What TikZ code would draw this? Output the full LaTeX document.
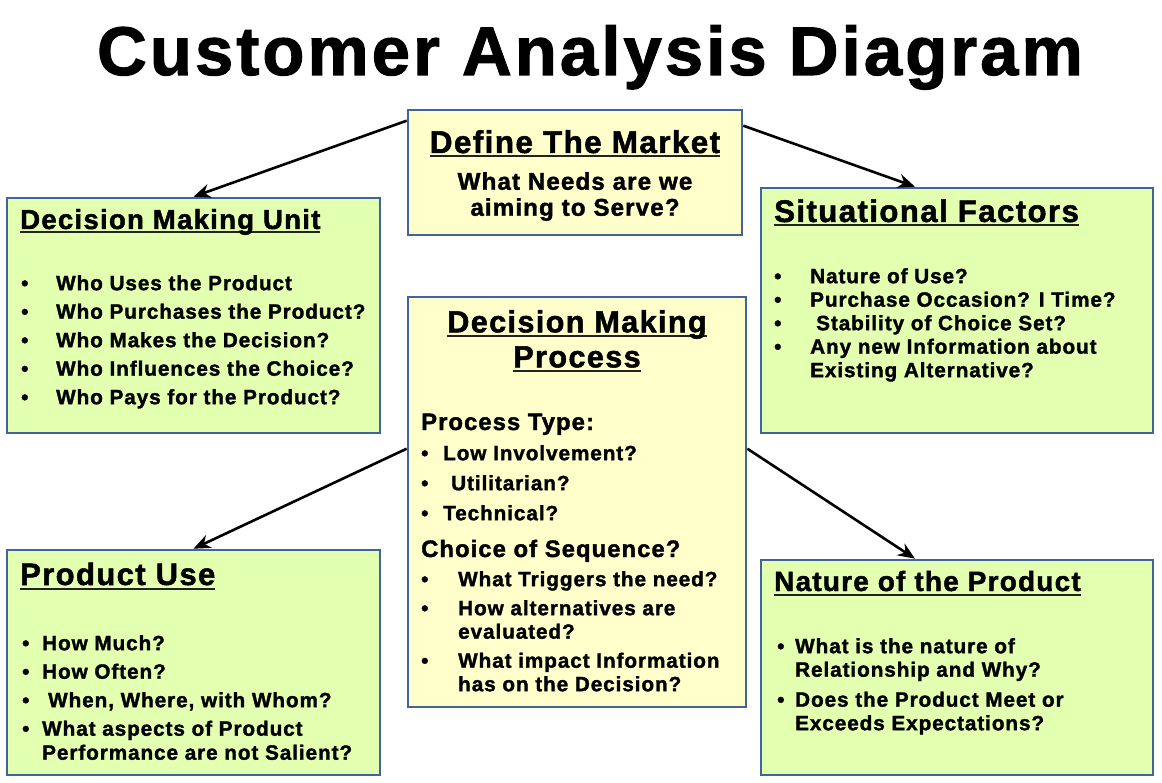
\documentclass[tikz,border=0pt]{standalone}
\usepackage{fontspec}
\setmainfont{Liberation Sans}[LetterSpace=4.5, BoldFeatures={FakeBold=1.6}]
\usetikzlibrary{arrows.meta,positioning,calc}
\definecolor{marketyellow}{HTML}{FFFFCC}
\definecolor{factorgreen}{HTML}{E3FFB0}
\definecolor{frameblue}{HTML}{41659A}
\definecolor{rulegray}{HTML}{222222}
\newcommand{\ulhead}[1]{\setbox0\hbox{#1}\rlap{\color{rulegray}\rule[-4.5pt]{\wd0}{2pt}}\box0}
\newcommand{\bul}[2]{\makebox[#1][l]{\textbullet}#2}
\newcommand{\fsz}[2]{\fontsize{#1}{#2}\selectfont}
\tikzset{
  panel/.style={
    draw=frameblue,
    line width=2.6pt,
    inner sep=0pt
  },
  marketpanel/.style={
    panel,
    fill=marketyellow
  },
  factorpanel/.style={
    panel,
    fill=factorgreen
  },
  heading/.style={
    font=\bfseries\fsz{#1}{#1},
    anchor=base west,
    inner sep=0pt
  },
  heading/.default=27,
  itemlist/.style={
    font=\bfseries\fsz{20.7}{#1},
    anchor=north west,
    align=left,
    inner sep=0pt
  },
  itemlist/.default=23.5,
  link/.style={
    -{Stealth[length=17pt,width=14pt]},
    draw=black,
    line width=2.6pt
  }
}

\begin{document}
\begin{tikzpicture}[x=1pt,y=-1pt]
  \useasboundingbox (0,0) rectangle (1162,783);

  \node[font=\bfseries\fsz{68.8}{70}, anchor=base, inner sep=0pt] (title) at (590,75)
    {Customer Analysis Diagram};

  % panels
  \node[marketpanel, minimum width=334pt, minimum height=125pt] (market) at (575,172.5) {};
  \node[factorpanel, minimum width=373pt, minimum height=235pt] (dmu) at (193.5,315.5) {};
  \node[factorpanel, minimum width=392pt, minimum height=245pt] (situ) at (957,310.5) {};
  \node[marketpanel, minimum width=338pt, minimum height=410pt] (dmp) at (577,502) {};
  \node[factorpanel, minimum width=373pt, minimum height=225pt] (use) at (193.5,662.5) {};
  \node[factorpanel, minimum width=392pt, minimum height=215pt] (nature) at (957,667.5) {};

  % define the market
  \node[heading=31.4, anchor=base] (markethead) at (575,153)
    {\ulhead{Define The Market}};
  \node[font=\bfseries\fsz{24.2}{26}, align=center, anchor=north, inner sep=0pt] (marketsub) at (575,172)
    {What Needs are we\\aiming to Serve?};

  % decision making unit
  \node[heading=27.6] (dmuhead) at (20,229)
    {\ulhead{Decision Making Unit}};
  \node[itemlist=28.5] (dmulist) at (21,275)
    {\bul{35pt}{Who Uses the Product}\\
     \bul{35pt}{Who Purchases the Product?}\\
     \bul{35pt}{Who Makes the Decision?}\\
     \bul{35pt}{Who Influences the Choice?}\\
     \bul{35pt}{Who Pays for the Product?}};

  % situational factors
  \node[heading=31.2] (situhead) at (774,222)
    {\ulhead{Situational Factors}};
  \node[itemlist] (situlist) at (774,268)
    {\bul{36pt}{Nature of Use?}\\
     \bul{36pt}{Purchase Occasion? I Time?}\\
     \bul{36pt}{\hspace{6pt}Stability of Choice Set?}\\
     \bul{36pt}{Any new Information about}\\
     \hspace*{36pt}Existing Alternative?};

  % decision making process
  \node[heading, font=\bfseries\fsz{30.6}{35}, anchor=north, align=center] (dmphead) at (577,310)
    {\ulhead{Decision Making}\\\ulhead{Process}};
  \node[heading=23.8] (typehead) at (421,430) {Process Type:};
  \node[itemlist=30] (typelist) at (421,445)
    {\bul{22pt}{Low Involvement?}\\
     \bul{22pt}{\hspace{8pt}Utilitarian?}\\
     \bul{22pt}{Technical?}};
  \node[heading=23.8] (seqhead) at (421,557) {Choice of Sequence?};
  \node[itemlist] (seqlist) at (421,571)
    {\bul{37pt}{What Triggers the need?}\\[5.5pt]
     \bul{37pt}{How alternatives are}\\
     \hspace*{37pt}evaluated?\\[5.5pt]
     \bul{37pt}{What impact Information}\\
     \hspace*{37pt}has on the Decision?};

  % product use
  \node[heading=31] (usehead) at (20,585)
    {\ulhead{Product Use}};
  \node[itemlist=24] (uselist) at (22,635)
    {\bul{20pt}{How Much?}\\[4.5pt]
     \bul{20pt}{How Often?}\\[4.5pt]
     \bul{20pt}{\hspace{6pt}When, Where, with Whom?}\\[4.5pt]
     \bul{20pt}{What aspects of Product}\\
     \hspace*{20pt}Performance are not Salient?};

  % nature of the product
  \node[heading=27.9] (naturehead) at (774,591)
    {\ulhead{Nature of the Product}};
  \node[itemlist] (naturelist) at (777,638)
    {\bul{18pt}{What is the nature of}\\
     \hspace*{18pt}Relationship and Why?\\[6.5pt]
     \bul{18pt}{Does the Product Meet or}\\
     \hspace*{18pt}Exceeds Expectations?};

  % connectors
  \draw[link] ($(market.north west)+(0,12)$) -- (dmu.north);
  \draw[link] ($(market.north east)+(0,17)$) -- ($(situ.north)+(-42,0)$);
  \draw[link] ($(dmp.north west)+(0,153)$) -- (use.north);
  \draw[link] ($(dmp.north east)+(0,153)$) -- ($(nature.north)+(-42,0)$);
\end{tikzpicture}
\end{document}
